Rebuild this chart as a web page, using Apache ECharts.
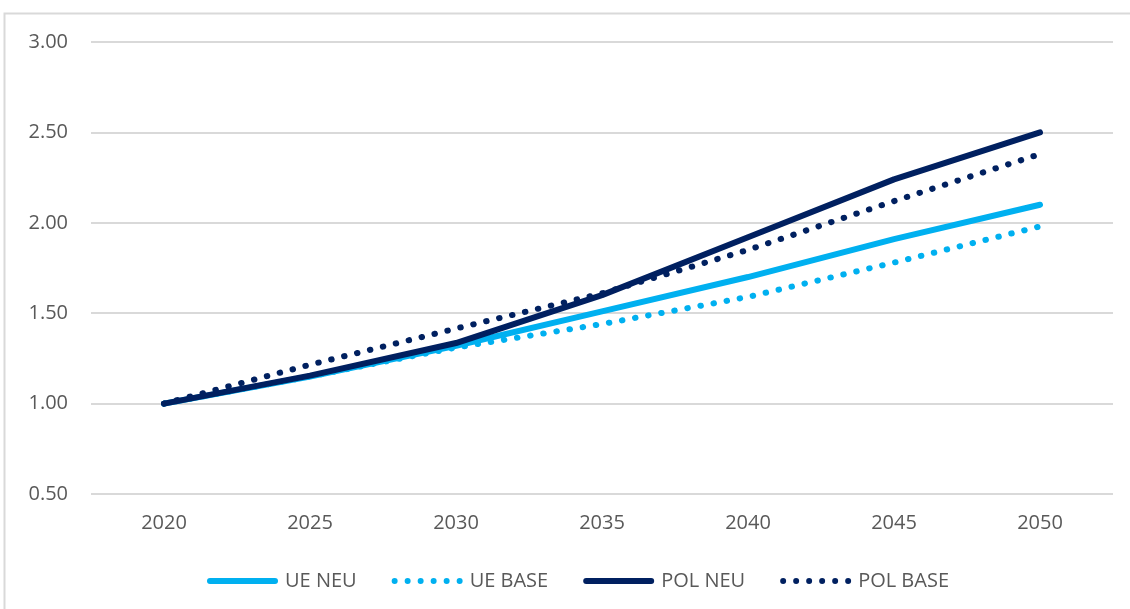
<!DOCTYPE html>
<html>
<head>
<meta charset="utf-8">
<script src="https://cdn.jsdelivr.net/npm/echarts@6/dist/echarts.min.js"></script>
<style>
  html, body { margin: 0; padding: 0; background: #ffffff; }
  #chart { width: 1130px; height: 609px; }
</style>
</head>
<body>
<div id="chart"></div>
<script>
// Growth index relative to 2020 (=1.00)
const years = ['2020', '2025', '2030', '2035', '2040', '2045', '2050'];
const ueNeu   = [1.00, 1.15, 1.32, 1.51, 1.70, 1.91, 2.10];
const ueBase  = [1.00, 1.15, 1.31, 1.44, 1.59, 1.78, 1.98];
const polNeu  = [1.00, 1.155, 1.335, 1.60, 1.92, 2.24, 2.50];
const polBase = [1.00, 1.215, 1.415, 1.61, 1.85, 2.12, 2.38];

const LIGHT = '#00b0f0';
const NAVY = '#002060';
const TEXT = '#595959';
const FONT = '"Open Sans", "Noto Sans", sans-serif';

// Legend glyphs: a round-capped bar for solid series, a row of six dots for dotted ones
const ICON_SOLID = 'path://M3,0 L68,0 A3,3 0 0 1 68,6 L3,6 A3,3 0 0 1 3,0 Z';
const ICON_DOTS = 'path://' + [0, 1, 2, 3, 4, 5].map(i => {
  const cx = 3 + i * 13;
  return `M${cx - 3},3 A3,3 0 1 0 ${cx + 3},3 A3,3 0 1 0 ${cx - 3},3 Z`;
}).join(' ');

function solid(name, data, color) {
  return {
    name, type: 'line', data, symbol: 'none', smooth: false,
    lineStyle: { color, width: 6, cap: 'round', join: 'round' },
    itemStyle: { color }
  };
}
function dotted(name, data, color) {
  return {
    name, type: 'line', data, symbol: 'none', smooth: false,
    lineStyle: { color, width: 6, type: [0.5, 12.8], cap: 'round', join: 'round' },
    itemStyle: { color }
  };
}

const chart = echarts.init(document.getElementById('chart'), null, { renderer: 'canvas' });
chart.setOption({
  animation: false,
  backgroundColor: '#ffffff',
  graphic: [{
    type: 'rect',
    shape: { x: 4.5, y: 13.5, width: 1300, height: 800 },
    style: { fill: 'none', stroke: '#d9d9d9', lineWidth: 2 },
    silent: true, z: -1
  }],
  grid: { left: 91, right: 17, top: 42, bottom: 115, containLabel: false },
  xAxis: {
    type: 'category',
    data: years,
    boundaryGap: true,
    axisLine: { show: false },
    axisTick: { show: false },
    axisLabel: { color: TEXT, fontSize: 20, fontFamily: FONT, margin: 19 },
    splitLine: { show: false }
  },
  yAxis: {
    type: 'value',
    min: 0.5, max: 3.0, interval: 0.5,
    axisLine: { show: false },
    axisTick: { show: false },
    axisLabel: {
      color: TEXT, fontSize: 20, fontFamily: FONT, margin: 23,
      formatter: v => v.toFixed(2)
    },
    splitLine: { lineStyle: { color: '#d9d9d9', width: 2 } }
  },
  legend: {
    top: 566,
    left: 202,
    padding: [5, 5, 5, 5],
    itemWidth: 71,
    itemHeight: 6,
    itemGap: 35,
    textStyle: { color: TEXT, fontSize: 20, fontFamily: FONT, padding: [0, 0, 0, 2] },
    data: [
      { name: 'UE NEU', icon: ICON_SOLID },
      { name: 'UE BASE', icon: ICON_DOTS },
      { name: 'POL NEU', icon: ICON_SOLID },
      { name: 'POL BASE', icon: ICON_DOTS }
    ]
  },
  series: [
    solid('UE NEU', ueNeu, LIGHT),
    dotted('UE BASE', ueBase, LIGHT),
    solid('POL NEU', polNeu, NAVY),
    dotted('POL BASE', polBase, NAVY)
  ]
});
</script>
</body>
</html>
